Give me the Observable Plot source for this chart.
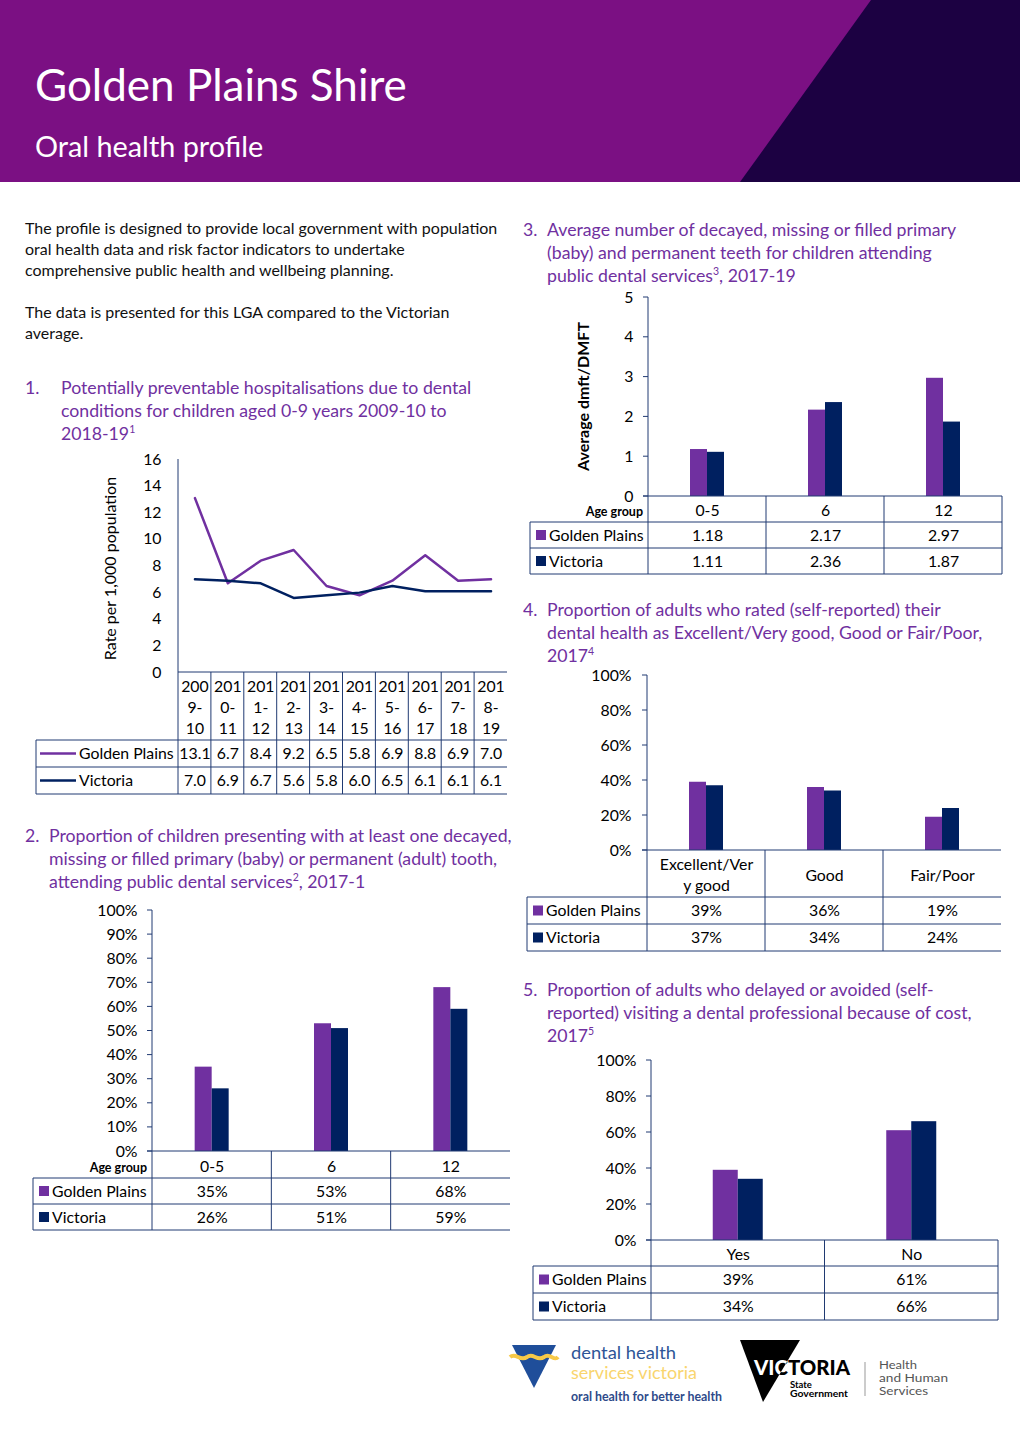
<!DOCTYPE html>
<html><head><meta charset="utf-8">
<script src="https://cdn.jsdelivr.net/npm/d3@7"></script>
<script src="https://cdn.jsdelivr.net/npm/@observablehq/plot@0.6"></script>
<style>
html,body{margin:0;padding:0;background:#fff;}
#page{position:relative;width:1020px;height:1442px;overflow:hidden;font-family:Lato,"Open Sans",sans-serif;color:#000;}
.abs{position:absolute;white-space:nowrap;}
#hdr{left:0;top:0;width:1020px;height:182px;background:#7B1083;}
#hdr .dark{position:absolute;left:0;top:0;width:1020px;height:182px;background:#1C0142;clip-path:polygon(871px 0,1020px 0,1020px 182px,740px 182px);}
.t1{left:35px;top:54px;font-size:44px;line-height:60px;color:#fff;}
.t2{left:35px;top:127px;font-size:28.8px;line-height:38px;color:#fff;}
.body{font-size:16px;line-height:21px;color:#111;}
.sec{font-size:17.7px;line-height:23px;color:#7030A0;}
.sec sup{font-size:10.5px;line-height:0;}
.chart{position:absolute;}
</style></head>
<body><div id="page">
<div id="hdr" class="abs"><div class="dark"></div></div>
<div class="abs t1">Golden Plains Shire</div>
<div class="abs t2">Oral health profile</div>

<div class="abs body" style="left:25px;top:217px;">The profile is designed to provide local government with population<br>oral health data and risk factor indicators to undertake<br>comprehensive public health and wellbeing planning.<br><br>The data is presented for this LGA compared to the Victorian<br>average.</div>

<div class="abs sec" style="left:25px;top:376px;">1.</div>
<div class="abs sec" style="left:61px;top:376px;">Potentially preventable hospitalisations due to dental<br>conditions for children aged 0-9 years 2009-10 to<br>2018-19<sup>1</sup></div>

<div class="abs sec" style="left:25px;top:824px;">2.</div>
<div class="abs sec" style="left:49px;top:824px;">Proportion of children presenting with at least one decayed,<br>missing or filled primary (baby) or permanent (adult) tooth,<br>attending public dental services<sup>2</sup>, 2017-1</div>

<div class="abs sec" style="left:523px;top:218px;">3.</div>
<div class="abs sec" style="left:547px;top:218px;">Average number of decayed, missing or filled primary<br>(baby) and permanent teeth for children attending<br>public dental services<sup>3</sup>, 2017-19</div>

<div class="abs sec" style="left:523px;top:598px;">4.</div>
<div class="abs sec" style="left:547px;top:598px;">Proportion of adults who rated (self-reported) their<br>dental health as Excellent/Very good, Good or Fair/Poor,<br>2017<sup>4</sup></div>

<div class="abs sec" style="left:523px;top:978px;">5.</div>
<div class="abs sec" style="left:547px;top:978px;">Proportion of adults who delayed or avoided (self-<br>reported) visiting a dental professional because of cost,<br>2017<sup>5</sup></div>

<svg class="abs" style="left:500px;top:1330px;" width="470" height="90" viewBox="0 0 470 90">
  <defs><clipPath id="tri"><polygon points="240,10 300,10 263,72"/></clipPath></defs>
  <polygon points="12,15 56,15 34,58" fill="#1F4E9A"/>
  <path d="M10,27 C16,22 20,32 27,27 C33,22 37,32 44,27 C50,22 54,32 58,27" stroke="#F7C948" stroke-width="4" fill="none"/>
  <text x="71" y="29" font-family="Lato" font-size="18" fill="#2E5597" textLength="105" lengthAdjust="spacingAndGlyphs">dental health</text>
  <text x="71" y="49" font-family="Lato" font-size="18" fill="#F9D56E" textLength="126" lengthAdjust="spacingAndGlyphs">services victoria</text>
  <text x="71" y="71" font-family="Lato" font-weight="bold" font-size="13.5" fill="#2E4A8A" textLength="151" lengthAdjust="spacingAndGlyphs">oral health for better health</text>
  <polygon points="240,10 300,10 263,72" fill="#000"/>
  <text x="254" y="45" font-family="Lato" font-weight="900" font-size="21" fill="#000" textLength="96" lengthAdjust="spacingAndGlyphs">VICTORIA</text>
  <g clip-path="url(#tri)"><text x="254" y="45" font-family="Lato" font-weight="900" font-size="21" fill="#fff" textLength="96" lengthAdjust="spacingAndGlyphs">VICTORIA</text></g>
  <text x="290" y="58" font-family="Lato" font-weight="bold" font-size="9.5" fill="#000">State</text>
  <text x="290" y="67" font-family="Lato" font-weight="bold" font-size="9.5" fill="#000" textLength="58" lengthAdjust="spacingAndGlyphs">Government</text>
  <line x1="365" y1="32" x2="365" y2="66" stroke="#999" stroke-width="1"/>
  <text x="379" y="39" font-family="Lato" font-size="12" fill="#555" textLength="38" lengthAdjust="spacingAndGlyphs">Health</text>
  <text x="379" y="52" font-family="Lato" font-size="12" fill="#555" textLength="69" lengthAdjust="spacingAndGlyphs">and Human</text>
  <text x="379" y="65" font-family="Lato" font-size="12" fill="#555" textLength="49" lengthAdjust="spacingAndGlyphs">Services</text>
</svg>
</div>
<script>
// ---------------- DATA ----------------
const seriesNames = ["Golden Plains", "Victoria"];
const seriesColors = ["#7030A0", "#002060"];

const hospYears = ["2009-10","2010-11","2011-12","2012-13","2013-14","2014-15","2015-16","2016-17","2017-18","2018-19"];
const hospYearLabels = ["200\n9-\n10","201\n0-\n11","201\n1-\n12","201\n2-\n13","201\n3-\n14","201\n4-\n15","201\n5-\n16","201\n6-\n17","201\n7-\n18","201\n8-\n19"];
const hospGP  = [13.1, 6.7, 8.4, 9.2, 6.5, 5.8, 6.9, 8.8, 6.9, 7.0];
const hospVic = [7.0, 6.9, 6.7, 5.6, 5.8, 6.0, 6.5, 6.1, 6.1, 6.1];

const ageGroups = ["0-5", "6", "12"];
const decayPctGP  = [35, 53, 68];
const decayPctVic = [26, 51, 59];

const dmftGP  = [1.18, 2.17, 2.97];
const dmftVic = [1.11, 2.36, 1.87];

const ratingCats   = ["Excellent/Very good", "Good", "Fair/Poor"];
const ratingLabels = ["Excellent/Ver\ny good", "Good", "Fair/Poor"];
const ratingGP  = [39, 36, 19];
const ratingVic = [37, 34, 24];

const costCats = ["Yes", "No"];
const costGP  = [39, 61];
const costVic = [34, 66];

// ---------------- BUILDER ----------------
const AX = "#203A72";
const FONT = "Lato, 'Open Sans', sans-serif";
const FS = 15.8;

function buildChart(cfg) {
  const {cats, heads, gp, vic, yMax, tickCount, tickFmt, valFmt, left, top, width, height,
         ml, mr, mt, mb, headH, rowH, barW, kind, tickLen, tickPad, yTitle, ageLabel, rightBorder} = cfg;
  const rows = cats.map((c, i) => ({cat: c, head: heads[i], gp: gp[i], vic: vic[i]}));
  const bw = (width - ml - mr) / cats.length;
  const marks = [];
  if (kind === "line") {
    const long = rows.flatMap(r => [{cat: r.cat, s: seriesNames[0], v: r.gp}, {cat: r.cat, s: seriesNames[1], v: r.vic}]);
    marks.push(Plot.line(long, {x: "cat", y: "v", stroke: "s", z: "s", strokeWidth: 2.5}));
  } else {
    marks.push(Plot.barY(rows, {x: "cat", y: "gp", fill: seriesColors[0], insetLeft: bw / 2 - barW, insetRight: bw / 2}));
    marks.push(Plot.barY(rows, {x: "cat", y: "vic", fill: seriesColors[1], insetLeft: bw / 2, insetRight: bw / 2 - barW}));
  }
  // table texts
  marks.push(Plot.text(rows, {x: "cat", y: d => 0, text: "head", dy: headH / 2, fontSize: FS, lineHeight: 1.33, fill: "#000"}));
  marks.push(Plot.text(rows, {x: "cat", y: d => 0, text: d => valFmt(d.gp), dy: headH + rowH / 2, fontSize: FS, fill: "#000"}));
  marks.push(Plot.text(rows, {x: "cat", y: d => 0, text: d => valFmt(d.vic), dy: headH + rowH * 1.5, fontSize: FS, fill: "#000"}));
  // table grid, axis lines, legend
  marks.push((index, scales, values, dims) => {
    const x = scales.x, y = scales.y;
    const x0 = dims.marginLeft, x1 = dims.width - dims.marginRight;
    const y0 = y(0), yT = y(yMax);
    const g = d3.create("svg:g");
    const ln = (a, b, c, d, col = AX, w = 1) => g.append("line").attr("x1", a).attr("y1", b).attr("x2", c).attr("y2", d).attr("stroke", col).attr("stroke-width", w);
    ln(x0, yT, x0, y0);
    if (tickLen) y.ticks(tickCount).forEach(t => ln(x0 - tickLen, y(t), x0, y(t)));
    ln(x0 - (tickLen || 0), y0, x1, y0);
    const tl = 8;
    const r1 = y0 + headH, r2 = r1 + rowH, r3 = r2 + rowH;
    [r1, r2, r3].forEach(yy => ln(tl, yy, x1, yy));
    ln(tl, r1, tl, r3);
    cats.forEach(c => ln(x(c), y0, x(c), r3));
    if (rightBorder) ln(x1, y0, x1, r3);
    seriesNames.forEach((s, i) => {
      const cy = r1 + rowH * (i + 0.5);
      if (kind === "line") {
        ln(tl + 4, cy, tl + 40, cy, seriesColors[i], 2.5);
        g.append("text").attr("x", tl + 43).attr("y", cy).attr("dy", "0.35em").attr("text-anchor", "start").attr("font-size", FS).attr("fill", "#000").text(s);
      } else {
        g.append("rect").attr("x", tl + 6).attr("y", cy - 5).attr("width", 10).attr("height", 10).attr("fill", seriesColors[i]);
        g.append("text").attr("x", tl + 19).attr("y", cy).attr("dy", "0.35em").attr("text-anchor", "start").attr("font-size", FS).attr("fill", "#000").text(s);
      }
    });
    if (ageLabel) {
      g.append("text").attr("x", x0 - 5).attr("y", y0 + headH / 2 + 3).attr("dy", "0.35em").attr("text-anchor", "end")
        .attr("font-size", 12.5).attr("font-weight", "bold").attr("fill", "#000").text(ageLabel);
    }
    if (yTitle) {
      const cy = (y0 + yT) / 2;
      g.append("text").attr("transform", `translate(${yTitle.x},${cy + (yTitle.dy || 0)}) rotate(-90)`).attr("text-anchor", "middle").attr("dy", "0.35em")
        .attr("font-size", 16).attr("font-weight", yTitle.bold ? "bold" : "normal").attr("fill", "#000").text(yTitle.text);
    }
    return g.node();
  });
  const svg = Plot.plot({
    width, height, marginLeft: ml, marginRight: mr, marginTop: mt, marginBottom: mb,
    x: {type: "band", domain: cats, padding: 0, round: false, axis: null},
    y: {domain: [0, yMax], ticks: tickCount, tickFormat: tickFmt, tickSize: 0, tickPadding: tickPad, label: null},
    color: {domain: seriesNames, range: seriesColors},
    style: {fontFamily: FONT, fontSize: FS + "px", color: "#000", background: "transparent", overflow: "visible"},
    marks
  });
  const holder = document.createElement("div");
  holder.className = "chart";
  holder.style.left = left + "px";
  holder.style.top = top + "px";
  holder.style.width = width + "px";
  holder.appendChild(svg);
  document.getElementById("page").appendChild(holder);
}

const pct = d => d + "%";

// Chart 1: hospitalisations (line)
buildChart({kind: "line", cats: hospYears, heads: hospYearLabels, gp: hospGP, vic: hospVic,
  yMax: 16, tickCount: 8, tickFmt: d => d, valFmt: d => d.toFixed(1),
  left: 28, top: 445, width: 482, height: 355, ml: 150, mr: 3, mt: 14, mb: 128,
  headH: 68, rowH: 27, tickLen: 0, tickPad: 17,
  yTitle: {x: 82, dy: 3, text: "Rate per 1,000 population", bold: false}});

// Chart 2: proportion with decay (bars)
buildChart({kind: "bar", cats: ageGroups, heads: ageGroups, gp: decayPctGP, vic: decayPctVic,
  yMax: 100, tickCount: 10, tickFmt: pct, valFmt: pct,
  left: 25, top: 900, width: 490, height: 335, ml: 127, mr: 5, mt: 10, mb: 84,
  headH: 27, rowH: 26, barW: 17, tickLen: 5, tickPad: 15, ageLabel: "Age group"});

// Chart 3: dmft (bars)
buildChart({kind: "bar", cats: ageGroups, heads: ageGroups, gp: dmftGP, vic: dmftVic,
  yMax: 5, tickCount: 5, tickFmt: d => d, valFmt: d => d.toFixed(2),
  left: 522, top: 287, width: 485, height: 292, ml: 126, mr: 5, mt: 10, mb: 83,
  headH: 26, rowH: 26, barW: 17, tickLen: 5, tickPad: 15, ageLabel: "Age group", rightBorder: true,
  yTitle: {x: 61, text: "Average dmft/DMFT", bold: true}});

// Chart 4: self-rated dental health (bars)
buildChart({kind: "bar", cats: ratingCats, heads: ratingLabels, gp: ratingGP, vic: ratingVic,
  yMax: 100, tickCount: 5, tickFmt: pct, valFmt: pct,
  left: 519, top: 665, width: 487, height: 290, ml: 128, mr: 5, mt: 10, mb: 105,
  headH: 47, rowH: 27, barW: 17, tickLen: 5, tickPad: 16});

// Chart 5: delayed due to cost (bars)
buildChart({kind: "bar", cats: costCats, heads: costCats, gp: costGP, vic: costVic,
  yMax: 100, tickCount: 5, tickFmt: pct, valFmt: pct,
  left: 525, top: 1050, width: 478, height: 275, ml: 126, mr: 5, mt: 10, mb: 85,
  headH: 26, rowH: 27, barW: 25, tickLen: 5, tickPad: 15, rightBorder: true});
</script>
</body></html>
